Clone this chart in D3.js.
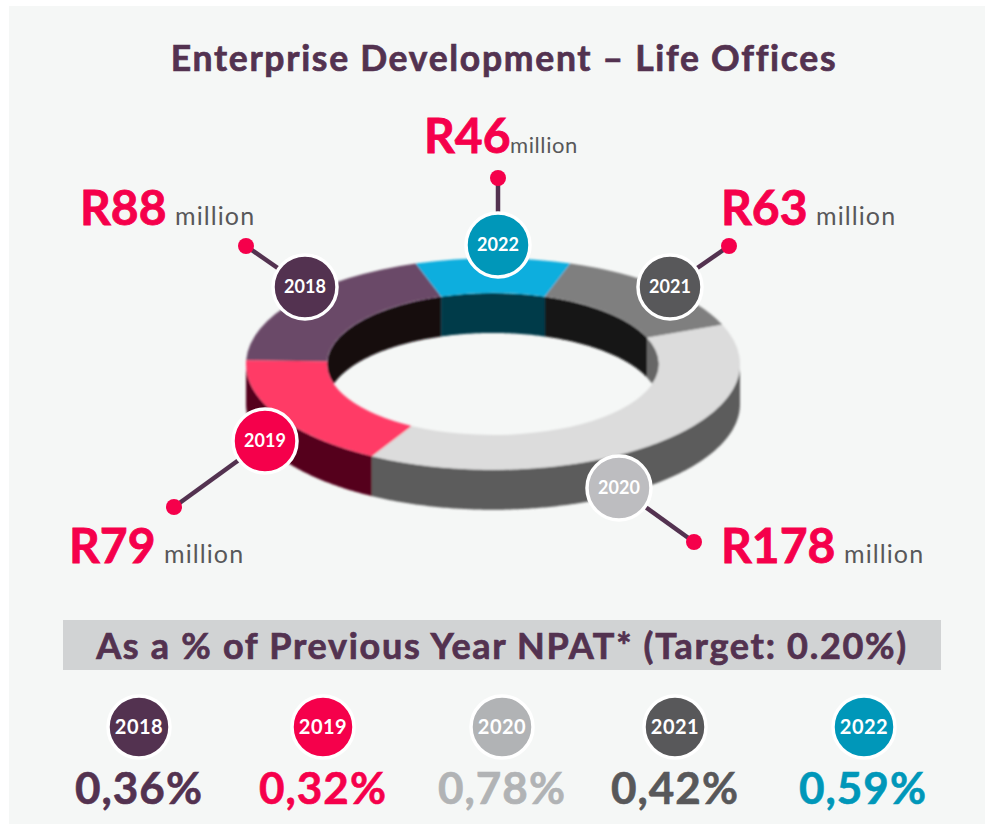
<!DOCTYPE html>
<html><head><meta charset="utf-8">
<script src="https://cdnjs.cloudflare.com/ajax/libs/d3/7.8.5/d3.min.js"></script>
<style>html,body{margin:0;padding:0;background:#fff}svg{display:block}text{font-family:Lato,sans-serif}</style>
</head><body><svg id="c" width="985" height="824"></svg>
<script>
const years=["2018","2019","2020","2021","2022"];
const amounts=[88,79,178,63,46];
const amountLabels=["R88","R79","R178","R63","R46"];
const percents=["0,36%","0,32%","0,78%","0,42%","0,59%"];
const ringOrder=[0,4,3,2,1];
const badgeColors=["#533250","#f5004b","#bdbdc0","#58585a","#0097b9"];
const topColors=["#6a4a68","#ff3b66","#dcdcdc","#7f7f7f","#10aede"];
const outerWall=["#3a2238","#55001c","#5c5c5c","#444444","#005a70"];
const innerWall=["#130a10","#300010","#666666","#141414","#003a4a"];
const pctColors=["#533250","#f5004b","#b1b3b5","#58585a","#0097b9"];

const svg=d3.select("#c");
svg.append("rect").attr("x",9).attr("y",6).attr("width",976).attr("height",818).attr("fill","#f5f7f6");
const defs=svg.append("defs");
defs.append("filter").attr("id","soft").append("feGaussianBlur").attr("stdDeviation",0.9);

const ink="#533250";
const heavy=(sel,c,w)=>sel.attr("stroke",c).attr("stroke-width",w).attr("paint-order","stroke");
const title=(t,x,y,s,ls,c=ink)=>heavy(svg.append("text").attr("x",x).attr("y",y).attr("text-anchor","middle")
  .attr("font-size",s).attr("font-weight",700).attr("letter-spacing",ls).attr("fill",c).text(t),c,0.7);
title("Enterprise Development – Life Offices",504,71,35.5,1.7);

// ring
const cx=493,cy=364,rO=247,rI=166,k=0.428,depth=40;
const start=-Math.PI/2+0.035;
const pie=d3.pie().value(d=>d).sort(null).startAngle(start).endAngle(start+2*Math.PI);
const arcs=pie(ringOrder.map(i=>amounts[i])).map((d,j)=>({...d,yearIndex:ringOrder[j]}));
const pt=(r,a,dy=0)=>[r*Math.sin(a),-r*Math.cos(a)*k+dy];
const ring=svg.append("g").attr("transform",`translate(${cx},${cy})`).attr("filter","url(#soft)");
const line=d3.line();
const wall=(r,a0,a1)=>{
  const as=d3.range(a0,a1,0.01).concat([a1]);
  return line(as.map(a=>pt(r,a)).concat(as.slice().reverse().map(a=>pt(r,a,depth))))+"Z";
};
defs.append("clipPath").attr("id","hole").append("ellipse").attr("cx",0).attr("cy",0).attr("rx",rI).attr("ry",rI*k);
const inner=ring.append("g").attr("clip-path","url(#hole)");
arcs.forEach(d=>{
  const i=d.yearIndex;
  const lo1=Math.max(d.startAngle,-Math.PI/2),hi1=Math.min(d.endAngle,Math.PI/2);
  if(hi1>lo1) inner.append("path").attr("d",wall(rI,lo1,hi1)).attr("fill",innerWall[i]);
  const lo=Math.max(d.startAngle,Math.PI/2),hi=Math.min(d.endAngle,1.5*Math.PI);
  if(hi>lo) ring.append("path").attr("d",wall(rO,lo,hi)).attr("fill",outerWall[i]);
});
const arc=d3.arc().innerRadius(rI).outerRadius(rO);
ring.append("g").attr("transform",`scale(1,${k})`).selectAll("path").data(arcs).join("path")
  .attr("d",arc).attr("fill",d=>topColors[d.yearIndex]);

// callouts
const callouts=[
 {b:[305,287],d:[246,246],t:[80,225],u:[175,225],us:25,ul:1.1},
 {b:[265,441],d:[174,507],t:[69,563],u:[164,563],us:25,ul:1.1},
 {b:[619,488],d:[694,542],t:[721,563],u:[844,563],us:25,ul:1.1},
 {b:[670,287],d:[729,246],t:[721,225],u:[816,225],us:25,ul:1.1},
 {b:[498,245],d:[498,178],t:[424,153],u:[510,153],us:22,ul:0.6}
];
years.forEach((y,i)=>{
  const c=callouts[i];
  svg.append("line").attr("x1",c.d[0]).attr("y1",c.d[1]).attr("x2",c.b[0]).attr("y2",c.b[1])
    .attr("stroke",ink).attr("stroke-width",4.5);
  svg.append("circle").attr("cx",c.d[0]).attr("cy",c.d[1]).attr("r",8).attr("fill","#f5004b");
});
years.forEach((y,i)=>{
  const c=callouts[i];
  svg.append("circle").attr("cx",c.b[0]).attr("cy",c.b[1]).attr("r",32).attr("fill",badgeColors[i]).attr("stroke","#fff").attr("stroke-width",3.5);
  svg.append("text").attr("x",c.b[0]).attr("y",c.b[1]+6).attr("text-anchor","middle").attr("font-size",18).attr("font-weight",700).attr("fill","#fff").text(y);
  heavy(svg.append("text").attr("x",c.t[0]).attr("y",c.t[1]).attr("font-size",48).attr("font-weight",700).attr("fill","#f5004b").text(amountLabels[i]),"#f5004b",0.8);
  svg.append("text").attr("x",c.u[0]).attr("y",c.u[1]).attr("font-size",c.us).attr("letter-spacing",c.ul).attr("fill","#58585a").text("million");
});

// band
svg.append("rect").attr("x",63).attr("y",620).attr("width",878).attr("height",50).attr("fill","#d1d3d4");
title("As a % of Previous Year NPAT* (Target: 0.20%)",502,659,36,1.7);

const colX=[139,323,502,675,864];
const pctX=[139,323,502,675,863];
years.forEach((y,i)=>{
  svg.append("circle").attr("cx",colX[i]).attr("cy",727).attr("r",31).attr("fill",pctColors[i]).attr("stroke","#fff").attr("stroke-width",3.5);
  svg.append("text").attr("x",colX[i]).attr("y",734).attr("text-anchor","middle").attr("font-size",20).attr("font-weight",700).attr("letter-spacing",0.5).attr("fill","#fff").text(y);
  heavy(svg.append("text").attr("x",pctX[i]).attr("y",804).attr("text-anchor","middle").attr("font-size",44).attr("font-weight",700).attr("fill",pctColors[i]).attr("letter-spacing",1).text(percents[i]),pctColors[i],0.6);
});
</script></body></html>
